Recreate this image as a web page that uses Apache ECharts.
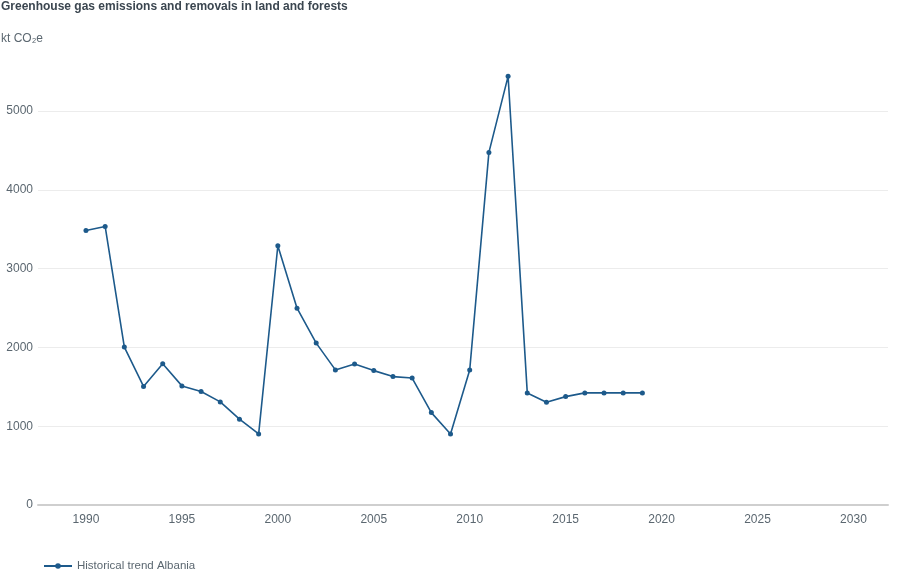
<!DOCTYPE html>
<html lang="en">
<head>
    <meta charset="UTF-8"/>
    <title>Land and forests</title>
    <script src="https://cdn.jsdelivr.net/npm/echarts@6/dist/echarts.min.js"></script>
</head>
<body style="margin:0;background:#fff;">
<div id="main" style="width:900px;height:578px;"></div>

<script type="text/javascript">
    // data (kt CO2e)
    var years = [1990, 1991, 1992, 1993, 1994, 1995, 1996, 1997, 1998, 1999,
        2000, 2001, 2002, 2003, 2004, 2005, 2006, 2007, 2008, 2009,
        2010, 2011, 2012, 2013, 2014, 2015, 2016, 2017, 2018, 2019];
    var emissions = [3485, 3536, 2005, 1505, 1792, 1512, 1440, 1309, 1090, 902,
        3291, 2499, 2055, 1715, 1790, 1706, 1630, 1612, 1173, 902,
        1715, 4476, 5442, 1423, 1305, 1376, 1423, 1423, 1423, 1423];
    var xTicks = [1990, 1995, 2000, 2005, 2010, 2015, 2020, 2025, 2030];
    var yTicks = [0, 1000, 2000, 3000, 4000, 5000];

    var points = [];
    for (var i = 0; i < years.length; i++) {
        points.push([years[i], emissions[i]]);
    }

    var myChart = echarts.init(document.getElementById('main'));
    var textColor = '#5b6770';
    var font = 'Arial, Liberation Sans';
    var option = {
        animation: false,
        title: {
            text: 'Greenhouse gas emissions and removals in land and forests',
            subtext: 'kt CO\u2082e',
            left: 0,
            top: 0,
            padding: [1, 0, 0, 1],
            itemGap: 20,
            textStyle: {fontSize: 12, fontWeight: 'bold', color: '#3b4650', fontFamily: font},
            subtextStyle: {fontSize: 12, color: textColor, fontFamily: font}
        },
        legend: {
            left: 38,
            top: 555,
            itemWidth: 28,
            itemHeight: 7,
            itemGap: 20,
            textStyle: {fontSize: 11.5, color: textColor, fontFamily: font},
            data: ['Historical trend Albania']
        },
        grid: {left: 38, right: 12, top: 56, bottom: 73},
        xAxis: {
            type: 'value',
            min: 1987.5,
            max: 2031.8,
            axisLine: {lineStyle: {color: '#cfcfcf', width: 2}},
            axisTick: {show: false},
            splitLine: {show: false},
            axisLabel: {
                customValues: xTicks,
                formatter: function (v) { return String(v); },
                color: textColor,
                fontSize: 12,
                margin: 9,
                fontFamily: font
            }
        },
        yAxis: {
            type: 'value',
            min: 0,
            max: 5700,
            axisLine: {show: false},
            axisTick: {show: false, customValues: yTicks},
            splitLine: {lineStyle: {color: '#ececec', width: 1}},
            axisLabel: {
                customValues: yTicks,
                formatter: function (v) { return String(v); },
                color: textColor,
                fontSize: 12,
                margin: 5,
                fontFamily: font
            }
        },
        series: [{
            name: 'Historical trend Albania',
            type: 'line',
            data: points,
            symbol: 'circle',
            symbolSize: 5,
            lineStyle: {color: '#1d5a8b', width: 1.6},
            itemStyle: {color: '#1d5a8b'}
        }]
    };
    myChart.setOption(option);
</script>
</body>
</html>
